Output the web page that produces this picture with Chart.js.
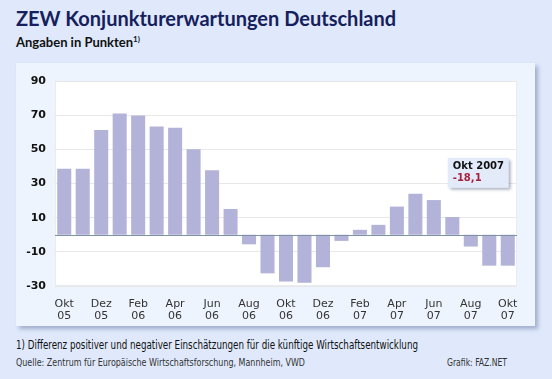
<!DOCTYPE html>
<html>
<head>
<meta charset="utf-8">
<script src="https://cdn.jsdelivr.net/npm/chart.js@4/dist/chart.umd.min.js"></script>
<style>
  html,body{margin:0;padding:0;}
  body{width:552px;height:379px;background:#dfe9fb;position:relative;overflow:hidden;font-family:Lato,"DejaVu Sans",sans-serif;}
  #title{position:absolute;left:16px;top:6px;font:bold 20px Lato,sans-serif;color:#15205c;white-space:nowrap;}
  #sub{position:absolute;left:16px;top:34px;font:bold 13px Lato,sans-serif;color:#111;white-space:nowrap;}
  #sub sup{font-size:8px;vertical-align:5px;}
  #panel{position:absolute;left:16px;top:63px;width:519px;height:263px;background:#eef4fd;box-shadow:3px 3px 4px rgba(90,105,150,0.45);}
  #panel canvas{position:absolute;left:0;top:0;}
  .fit{position:absolute;white-space:nowrap;transform-origin:0 0;font-family:"Liberation Sans Narrow","DejaVu Sans Condensed","Open Sans",sans-serif;}
  #note{left:16px;top:338px;font-size:12px;color:#111;}
  #src{left:16px;top:356px;font-size:11px;color:#333;}
  #credit{left:447px;top:356px;font-size:11px;color:#333;}
</style>
</head>
<body>
<div id="title">ZEW Konjunkturerwartungen Deutschland</div>
<div id="sub">Angaben in Punkten<sup>1)</sup></div>
<div id="panel"><canvas id="c" width="519" height="263"></canvas></div>
<div id="note" class="fit" data-w="402">1) Differenz positiver und negativer Einschätzungen für die künftige Wirtschaftsentwicklung</div>
<div id="src" class="fit" data-w="289">Quelle: Zentrum für Europäische Wirtschaftsforschung, Mannheim, VWD</div>
<div id="credit" class="fit" data-w="60">Grafik: FAZ.NET</div>
<script>
const months = ["Okt","Nov","Dez","Jan","Feb","Mär","Apr","Mai","Jun","Jul","Aug","Sep",
                "Okt","Nov","Dez","Jan","Feb","Mär","Apr","Mai","Jun","Jul","Aug","Sep","Okt"];
const years  = ["05","05","05","06","06","06","06","06","06","06","06","06",
                "06","06","06","07","07","07","07","07","07","07","07","07","07"];
const values = [38.6, 38.7, 61.3, 71.0, 69.8, 63.4, 62.7, 50.0, 37.8, 15.1, -5.6, -22.6,
                -27.4, -28.1, -19.0, -3.6, 2.9, 5.8, 16.5, 24.0, 20.3, 10.4, -6.9, -18.1, -18.1];
const yTicks = [-30, -10, 10, 30, 50, 70, 90];
const calloutTitle = "Okt 2007";
const calloutValue = "-18,1";

document.querySelectorAll('.fit').forEach(el => {
  const w = el.getBoundingClientRect().width;
  const target = parseFloat(el.dataset.w);
  if (w > 0) el.style.transform = 'scaleX(' + (target / w) + ')';
});

const labels = months.map((m, i) => i % 2 === 0 ? [m, years[i]] : "");

const plotBg = {
  id: 'plotBg',
  beforeDraw(chart) {
    const {ctx, chartArea: a} = chart;
    ctx.save();
    ctx.fillStyle = '#ffffff';
    ctx.fillRect(a.left, a.top, a.right - a.left, a.bottom - a.top);
    ctx.strokeStyle = '#e9ecf0';
    ctx.lineWidth = 1;
    ctx.strokeRect(a.left + 0.5, a.top + 0.5, a.right - a.left - 1, a.bottom - a.top - 1);
    ctx.restore();
  },
  afterDatasetsDraw(chart) {
    const {ctx, chartArea: a, scales} = chart;
    const y0 = Math.round(scales.y.getPixelForValue(0)) + 0.5;
    ctx.save();
    ctx.strokeStyle = '#7f92a3';
    ctx.lineWidth = 1;
    ctx.beginPath();
    ctx.moveTo(a.left, y0);
    ctx.lineTo(a.right, y0);
    ctx.stroke();
    // callout box
    const last = values.length - 1;
    const xr = scales.x.getPixelForValue(last) + 1;
    const yt = scales.y.getPixelForValue(45);
    const w = 61, h = 30;
    const xl = xr - w;
    ctx.shadowColor = 'rgba(60,70,110,0.45)';
    ctx.shadowOffsetX = 2;
    ctx.shadowOffsetY = 2;
    ctx.shadowBlur = 3;
    ctx.fillStyle = '#e3ebfa';
    ctx.fillRect(xl, yt, w, h);
    ctx.shadowColor = 'transparent';
    ctx.font = 'bold 10px "DejaVu Sans", sans-serif';
    ctx.textBaseline = 'middle';
    ctx.textAlign = 'left';
    ctx.fillStyle = '#111';
    ctx.fillText(calloutTitle, xl + 5, yt + 9);
    ctx.fillStyle = '#a3223c';
    ctx.fillText(calloutValue, xl + 5, yt + 21);
    ctx.restore();
  }
};

new Chart(document.getElementById('c'), {
  type: 'bar',
  data: {
    labels: labels,
    datasets: [{
      data: values,
      backgroundColor: '#b3b3da',
      borderWidth: 0,
      barPercentage: 0.76,
      categoryPercentage: 1.0
    }]
  },
  options: {
    responsive: false,
    animation: false,
    layout: {padding: {left: 0, right: 18, top: 18, bottom: 0}},
    plugins: {legend: {display: false}, tooltip: {enabled: false}},
    scales: {
      x: {
        grid: {display: false},
        border: {display: false},
        ticks: {
          autoSkip: false, maxRotation: 0, padding: 4,
          color: '#333', font: {family: '"DejaVu Sans", sans-serif', size: 11, lineHeight: 1.1}
        },
        afterFit(s) { s.height = 40; }
      },
      y: {
        min: -30, max: 90,
        grid: {color: '#e8e8e8', drawTicks: false},
        border: {display: false},
        afterBuildTicks(s) { s.ticks = yTicks.map(v => ({value: v})); },
        ticks: {
          padding: 9, color: '#111',
          font: {family: '"DejaVu Sans", sans-serif', size: 11, weight: 'bold'}
        },
        afterFit(s) { s.width = 39; }
      }
    }
  },
  plugins: [plotBg]
});
</script>
</body>
</html>
